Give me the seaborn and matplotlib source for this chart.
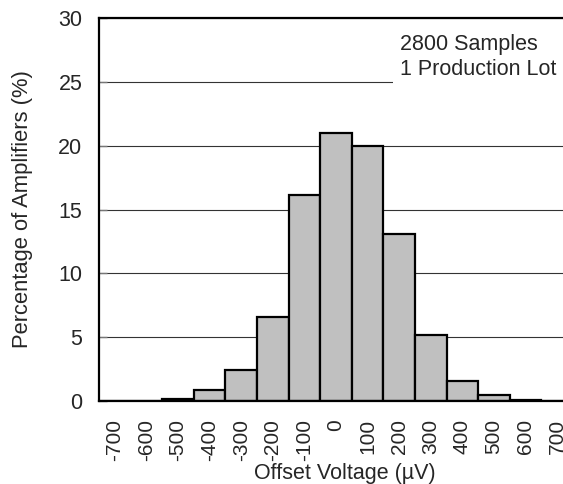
import numpy as np
import matplotlib
matplotlib.use("Agg")
import matplotlib.pyplot as plt
import seaborn as sns

# offset voltage bins (uV) and share of amplifiers (%)
offset_bins = ["-700", "-600", "-500", "-400", "-300", "-200", "-100", "0",
               "100", "200", "300", "400", "500", "600", "700"]
percent = [0, 0, 0.15, 0.85, 2.45, 6.6, 16.1, 21.0,
           20.0, 13.1, 5.15, 1.6, 0.5, 0.1, 0]
y_ticks = [0, 5, 10, 15, 20, 25, 30]

sns.set_style("white")
plt.rcParams["font.family"] = ["Liberation Sans", "DejaVu Sans"]

fig = plt.figure(figsize=(5.63, 4.84), dpi=100)
ax = fig.add_axes([99/563, 83/484, 474/563, 383/484])

sns.barplot(x=offset_bins, y=percent, order=offset_bins, color="#c0c0c0",
            saturation=1, edgecolor="black", linewidth=1.6, width=1.0, ax=ax)

ax.set_xlim(-0.5, len(offset_bins) - 0.5)
ax.set_ylim(0, 30)
ax.set_yticks(y_ticks)
ax.yaxis.grid(True, color="#333333", linewidth=0.8)
ax.set_axisbelow(True)

# labels sit at bin centres, tick marks at bin edges
ax.set_xticks(range(len(offset_bins)))
ax.set_xticklabels(offset_bins, rotation=90, fontsize=15)
ax.set_xticks(np.arange(0.5, len(offset_bins) - 1), minor=True)
ax.tick_params(axis="x", which="major", length=0, pad=13)
ax.tick_params(axis="x", which="minor", direction="in", length=5, width=1, color="#555555")
ax.tick_params(axis="y", direction="in", length=6, width=1, color="#777777",
               labelsize=15.5, pad=12, left=True)

for side in ["left", "bottom", "top"]:
    ax.spines[side].set_linewidth(1.6)
    ax.spines[side].set_color("black")
ax.spines["right"].set_visible(False)

ax.set_xlabel("Offset Voltage (µV)", fontsize=15.5)
ax.set_ylabel("Percentage of Amplifiers (%)", fontsize=15.8)
ax.xaxis.set_label_coords(0.518, -0.162)
ax.yaxis.set_label_coords(-0.14, 0.5)

ax.text(0.635, 0.957, "2800 Samples\n1 Production Lot", transform=ax.transAxes,
        ha="left", va="top", fontsize=15.5, linespacing=1.25,
        bbox=dict(facecolor="white", edgecolor="none", pad=5))

fig.savefig("out.png", dpi=100)
